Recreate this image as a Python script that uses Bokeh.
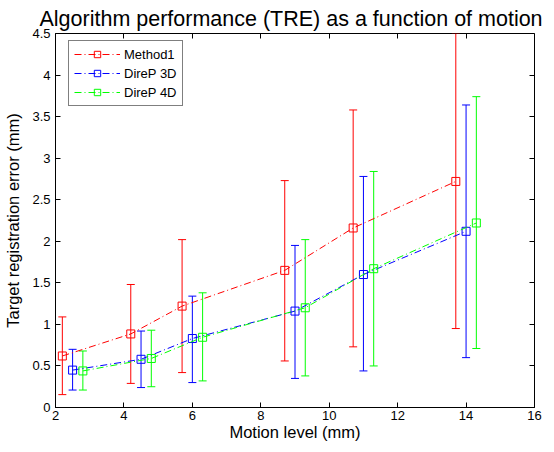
from bokeh.plotting import figure
from bokeh.models import (Range1d, LinearAxis, FixedTicker, NumeralTickFormatter,
                          Whisker, TeeHead, ColumnDataSource, Legend, LegendItem, Title)
from bokeh.embed import file_html
from bokeh.resources import INLINE

# ---- data ----
title_text = "Algorithm performance (TRE) as a function of motion"
x_label = "Motion level (mm)"
y_label = "Target registration error (mm)"
series_names = ["Method1", "DireP 3D", "DireP 4D"]
series_colors = ["#FF0000", "#0000FF", "#00FF00"]

motion_m1 = [2.2, 4.2, 5.7, 8.7, 10.7, 13.7]
tre_m1 = [0.62, 0.885, 1.22, 1.65, 2.16, 2.72]
lo_m1 = [0.155, 0.29, 0.42, 0.56, 0.73, 0.95]
hi_m1 = [1.09, 1.48, 2.02, 2.73, 3.58, 4.50]

motion_3d = [2.5, 4.5, 6.0, 9.0, 11.0, 14.0]
tre_3d = [0.45, 0.58, 0.83, 1.16, 1.60, 2.12]
lo_3d = [0.21, 0.24, 0.30, 0.35, 0.44, 0.60]
hi_3d = [0.70, 0.92, 1.34, 1.95, 2.78, 3.64]

motion_4d = [2.8, 4.8, 6.3, 9.3, 11.3, 14.3]
tre_4d = [0.44, 0.59, 0.845, 1.20, 1.67, 2.22]
lo_4d = [0.21, 0.25, 0.32, 0.38, 0.50, 0.71]
hi_4d = [0.68, 0.93, 1.38, 2.02, 2.84, 3.74]

x_ticks = [2, 4, 6, 8, 10, 12, 14, 16]
y_ticks = [0, 0.5, 1, 1.5, 2, 2.5, 3, 3.5, 4, 4.5]
x_min, x_max = 2, 16
y_min, y_max = 0, 4.5

FONT = "Liberation Sans"
W, H = 546, 444
BL, BR, BT, BB = 55, 12, 33, 37
FRAME_H = H - BT - BB

p = figure(width=W, height=H, output_backend="svg", toolbar_location=None,
           x_range=Range1d(x_min, x_max), y_range=Range1d(y_min, y_max),
           min_border_left=BL, min_border_right=BR, min_border_top=BT, min_border_bottom=BB)

p.title = Title(text=title_text, text_font=FONT, text_font_size="21.5px",
                text_font_style="normal", text_color="black", align="left",
                offset=-16, standoff=6)

p.xgrid.visible = False
p.ygrid.visible = False
p.outline_line_color = "black"
p.outline_line_width = 1
p.background_fill_color = "white"

p.xaxis.axis_label = x_label
p.yaxis.axis_label = y_label

def style_axis(ax, show_labels=True):
    ax.axis_line_color = "black"
    ax.axis_line_width = 1
    ax.major_tick_in = 5
    ax.major_tick_out = 0
    ax.minor_tick_line_color = None
    ax.major_tick_line_color = "black"
    ax.major_label_text_font = FONT
    ax.major_label_text_color = "black"
    ax.axis_label_text_font = FONT
    ax.axis_label_text_font_style = "normal"
    ax.axis_label_text_font_size = "16.5px"
    ax.axis_label_text_color = "black"
    if show_labels:
        ax.major_label_text_font_size = "13px"
    else:
        ax.major_label_text_font_size = "0px"
        ax.major_label_text_color = None
        ax.major_label_standoff = 0

for ax in p.xaxis:
    ax.ticker = FixedTicker(ticks=x_ticks)
    ax.formatter = NumeralTickFormatter(format="0.[0]")
    style_axis(ax)
    ax.major_label_standoff = 3
    ax.axis_label_standoff = 0
for ax in p.yaxis:
    ax.ticker = FixedTicker(ticks=y_ticks)
    ax.formatter = NumeralTickFormatter(format="0.[0]")
    style_axis(ax)
    ax.major_label_standoff = 5
    ax.axis_label_standoff = 7

# box ticks on top and right, pinned to the frame edges (take no layout space)
top_ax = LinearAxis(ticker=FixedTicker(ticks=x_ticks), fixed_location=y_max)
style_axis(top_ax, show_labels=False)
p.add_layout(top_ax, "above")
right_ax = LinearAxis(ticker=FixedTicker(ticks=y_ticks), fixed_location=x_max)
style_axis(right_ax, show_labels=False)
p.add_layout(right_ax, "right")

all_series = [
    (motion_m1, tre_m1, lo_m1, hi_m1),
    (motion_3d, tre_3d, lo_3d, hi_3d),
    (motion_4d, tre_4d, lo_4d, hi_4d),
]

items = []
for name, color, (xs, ys, lo, hi) in zip(series_names, series_colors, all_series):
    src = ColumnDataSource(dict(x=xs, y=ys, lo=lo, hi=hi))
    w = Whisker(source=src, base="x", lower="lo", upper="hi", dimension="height",
                line_color=color, line_width=1,
                upper_head=TeeHead(size=8, line_color=color, line_width=1),
                lower_head=TeeHead(size=8, line_color=color, line_width=1))
    p.add_layout(w)
    ln = p.line("x", "y", source=src, line_color=color, line_width=1, line_dash="7 3 1 3")
    mk = p.scatter("x", "y", source=src, marker="square", size=8, line_color=color,
                   fill_color=None, line_width=1)
    items.append(LegendItem(label=name, renderers=[ln, mk]))

legend = Legend(items=items, location=(13, FRAME_H - 73))
legend.label_text_font = FONT
legend.label_text_font_size = "13px"
legend.label_text_color = "black"
legend.glyph_width = 46
legend.glyph_height = 16
legend.label_height = 16
legend.label_standoff = 4
legend.spacing = 3
legend.padding = 5
legend.margin = 0
legend.border_line_color = "black"
legend.border_line_width = 1
legend.background_fill_color = "white"
legend.background_fill_alpha = 1
p.add_layout(legend, "center")

open("out.html", "w").write(file_html(p, INLINE))
